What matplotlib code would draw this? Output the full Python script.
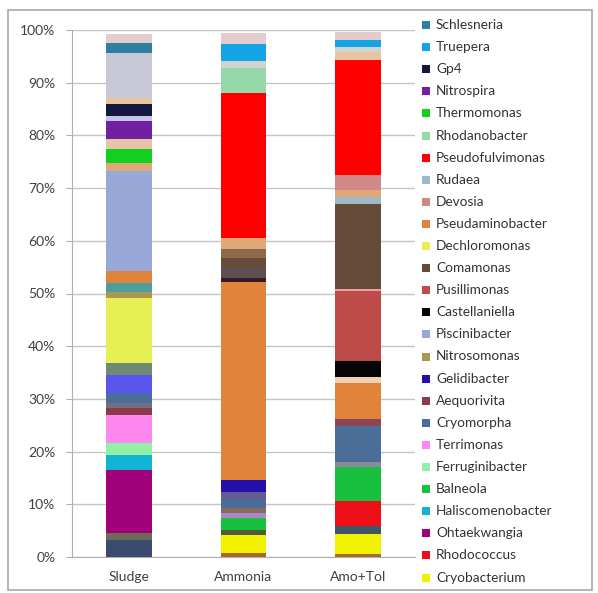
import matplotlib
matplotlib.use("Agg")
import matplotlib.pyplot as plt
from matplotlib.patches import Rectangle
from matplotlib.ticker import FuncFormatter

plt.rcParams['font.family'] = ['Lato', 'DejaVu Sans']

samples = ["Sludge", "Ammonia", "Amo+Tol"]

# genera from the bottom of the stack to the top ("" = not listed in the legend)
genera = [
    "", "", "Cryobacterium", "", "", "", "Rhodococcus", "Ohtaekwangia",
    "Haliscomenobacter", "Balneola", "Ferruginibacter", "Terrimonas", "", "",
    "Aequorivita", "", "", "Cryomorpha", "", "", "", "Gelidibacter", "",
    "Dechloromonas", "Nitrosomonas", "", "Pseudaminobacter", "", "",
    "Castellaniella", "Pusillimonas", "", "", "Comamonas", "Piscinibacter", "",
    "Rudaea", "", "Thermomonas", "Devosia", "", "Pseudofulvimonas",
    "Nitrospira", "", "Gp4", "Rhodanobacter", "", "", "", "Schlesneria",
    "Truepera", "",
]

# relative abundance (%) per sample, same order as genera
sludge = [
    3.2, 0.0, 0.0, 1.3, 0.0, 0.0, 0.0, 12.0,
    2.8, 0.0, 2.3, 5.3, 0.0, 0.0,
    1.3, 0.0, 1.1, 1.9, 0.0, 0.0, 3.3, 0.0, 2.4,
    12.3, 1.0, 1.7, 2.4, 0.0, 0.0,
    0.0, 0.0, 0.0, 0.0, 0.0, 19.0, 0.0,
    0.0, 1.5, 2.7, 0.0, 1.8, 0.0,
    3.5, 0.9, 2.3, 0.0, 1.1, 0.0, 8.5, 1.9,
    0.0, 1.7,
]
ammonia = [
    0.0, 0.8, 3.4, 0.0, 0.9, 0.0, 0.0, 0.0,
    0.0, 2.3, 0.0, 0.0, 0.9, 0.0,
    0.0, 1.0, 0.0, 1.5, 0.0, 1.5, 0.0, 2.3, 0.0,
    0.0, 0.0, 0.0, 37.5, 0.9, 0.0,
    0.0, 0.0, 0.0, 1.9, 1.9, 0.0, 1.7,
    0.0, 2.1, 0.0, 0.0, 0.0, 27.5,
    0.0, 0.0, 0.0, 4.7, 0.0, 1.3, 0.0, 0.0,
    3.2, 2.2,
]
amo_tol = [
    0.0, 0.6, 3.8, 0.0, 0.0, 1.5, 4.7, 0.0,
    0.0, 6.4, 0.0, 0.0, 0.0, 1.0,
    0.0, 0.0, 0.0, 6.8, 1.3, 0.0, 0.0, 0.0, 0.0,
    0.0, 0.0, 0.0, 7.0, 0.0, 1.0,
    3.0, 13.4, 0.4, 0.0, 16.0, 0.0, 0.0,
    1.5, 1.3, 0.0, 2.8, 0.0, 21.8,
    0.0, 0.0, 0.0, 0.0, 1.5, 1.0, 0.0, 0.0,
    1.3, 1.6,
]

colors = [
    "#3B4B70", "#A86A28", "#F2F200", "#6E6A58", "#4E5A30", "#405468", "#EE1018", "#A0007A",
    "#12B4D4", "#18C040", "#90F0A8", "#FF88F0", "#A888C8", "#8A8A98",
    "#8A3A48", "#8A6A58", "#707080", "#4A6E98", "#8E4452", "#5E5E92", "#5A55EE", "#2410A8", "#6E8A72",
    "#E6F055", "#A89850", "#4E9EA0", "#E0843C", "#3A1828", "#F0D0B0",
    "#050505", "#BE4A4A", "#E8A0A0", "#5E5050", "#664C38", "#98A8D8", "#8A6A48",
    "#A0B8C8", "#E0A878", "#12D020", "#D08888", "#E6C4A4", "#FF0000",
    "#7220A2", "#C4C4EA", "#12183E", "#96D8A8", "#E8C4A0", "#D0D4D0", "#C8C8D6", "#2E80A0",
    "#12A4E4", "#E4CCCC",
]

# order of entries in the legend, top to bottom
legend_order = [
    "Schlesneria", "Truepera", "Gp4", "Nitrospira", "Thermomonas",
    "Rhodanobacter", "Pseudofulvimonas", "Rudaea", "Devosia",
    "Pseudaminobacter", "Dechloromonas", "Comamonas", "Pusillimonas",
    "Castellaniella", "Piscinibacter", "Nitrosomonas", "Gelidibacter",
    "Aequorivita", "Cryomorpha", "Terrimonas", "Ferruginibacter", "Balneola",
    "Haliscomenobacter", "Ohtaekwangia", "Rhodococcus", "Cryobacterium",
]

W, H = 598, 593
fig = plt.figure(figsize=(W / 100, H / 100), dpi=100)

def px(x0, y0, x1, y1):
    # pixel box (top-left origin) -> figure fraction rect
    return [x0 / W, 1 - y1 / H, (x1 - x0) / W, (y1 - y0) / H]

ax = fig.add_axes(px(72, 30, 415, 557))

x = list(range(len(samples)))
bottoms = [0.0, 0.0, 0.0]
for i in range(len(genera)):
    vals = [sludge[i], ammonia[i], amo_tol[i]]
    ax.bar(x, vals, bottom=bottoms, width=0.4, color=colors[i], linewidth=0, zorder=3)
    bottoms = [b + v for b, v in zip(bottoms, vals)]

ax.set_xlim(-0.5, 2.5)
ax.set_ylim(0, 100)
ax.set_yticks(range(0, 101, 10))
ax.yaxis.set_major_formatter(FuncFormatter(lambda v, p: f"{int(v)}%"))
ax.set_xticks(x)
ax.set_xticklabels(samples)
ax.grid(axis="y", color="#C4C4C4", linewidth=1.0, zorder=0)
ax.tick_params(axis="y", length=4, color="#B0B0B0", labelsize=10, labelcolor="#404040", pad=8)
ax.tick_params(axis="x", length=0, labelsize=10, labelcolor="#404040", pad=10)
for side in ["top", "right"]:
    ax.spines[side].set_visible(False)
ax.spines["left"].set_color("#B0B0B0")
ax.spines["bottom"].set_color("#B0B0B0")

# legend column on the right
color_of = dict(zip(genera, colors))
for k, name in enumerate(legend_order):
    yc = 25 + k * 22.1
    fig.patches.append(Rectangle((422 / W, 1 - (yc + 4) / H), 8 / W, 8 / H,
                                 transform=fig.transFigure, facecolor=color_of[name],
                                 edgecolor="none"))
    fig.text(436 / W, 1 - yc / H, name, fontsize=9.8, color="#333333", va="center", ha="left")

# chart frame
fig.patches.append(Rectangle((8 / W, 1 - 590 / H), (592 - 8) / W, (590 - 10) / H,
                             transform=fig.transFigure, fill=False, edgecolor="#A8A8A8",
                             linewidth=1.2))

fig.savefig("out.png", dpi=100)
